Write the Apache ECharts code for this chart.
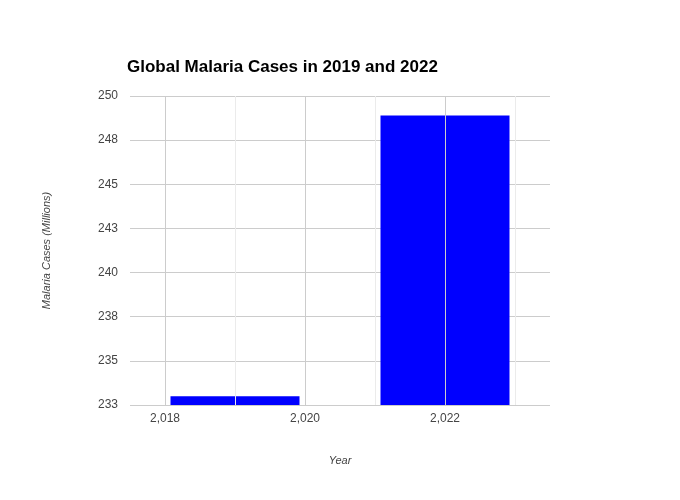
<!DOCTYPE html>
<html><head><meta charset="utf-8">
<script src="https://cdn.jsdelivr.net/npm/echarts@6/dist/echarts.min.js"></script>
<style>html,body{margin:0;padding:0;background:#fff}#c{width:680px;height:500px}</style>
</head><body><div id="c"></div>
<script>
const years = [2019, 2022];
const cases = [233.0, 248.9];
const xTickLabels = [2018, 2020, 2022];
const majorGridYears = [2018, 2020, 2022];
const minorGridYears = [2019, 2021, 2023];
const chart = echarts.init(document.getElementById('c'));
const font = 'Liberation Sans, Arial, sans-serif';
chart.setOption({
  animation: false,
  title: {text: 'Global Malaria Cases in 2019 and 2022', left: 122, top: 54,
    textStyle: {fontFamily: font, fontSize: 17, fontWeight: 'bold', color: '#000'}},
  grid: {left: 130, right: 130, top: 96, bottom: 95},
  xAxis: {type: 'value', min: 2017.5, max: 2023.5,
    name: 'Year', nameLocation: 'middle', nameGap: 50,
    nameTextStyle: {fontFamily: font, fontSize: 11, fontStyle: 'italic', color: '#444'},
    axisLine: {show: false}, axisTick: {show: false}, splitLine: {show: false},
    axisLabel: {customValues: xTickLabels, fontFamily: font, fontSize: 12, color: '#444', margin: 8}},
  yAxis: {type: 'value', min: 232.5, max: 250, interval: 2.5,
    name: 'Malaria Cases (Millions)', nameLocation: 'middle', nameGap: 78, nameRotate: 90,
    nameTextStyle: {fontFamily: font, fontSize: 11, fontStyle: 'italic', color: '#444'},
    axisLine: {show: false}, axisTick: {show: false},
    splitLine: {lineStyle: {color: '#cccccc', width: 1}},
    axisLabel: {formatter: v => String(Math.round(v)), fontFamily: font, fontSize: 12, color: '#444', margin: 12}},
  series: [
    {type: 'line', data: [], z: 1, silent: true,
      markLine: {symbol: 'none', silent: true, label: {show: false},
        data: majorGridYears.map(y => ({xAxis: y, lineStyle: {color: '#cccccc', width: 1, type: 'solid'}}))
          .concat(minorGridYears.map(y => ({xAxis: y, lineStyle: {color: '#ebebeb', width: 1, type: 'solid'}})))}},
    {type: 'bar', z: 2, barWidth: 129, itemStyle: {color: '#0000ff'},
      data: years.map((y, i) => [y, cases[i]])}
  ]
});
</script></body></html>
